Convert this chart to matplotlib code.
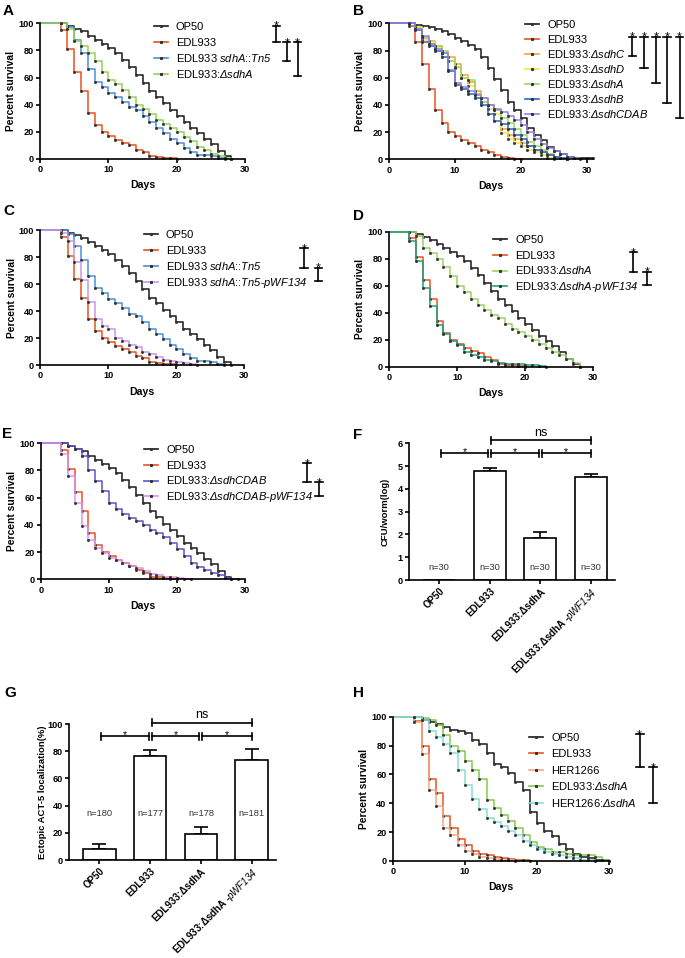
import numpy as np
import matplotlib
matplotlib.use("Agg")
import matplotlib.pyplot as plt
from matplotlib.lines import Line2D

plt.rcParams['font.family'] = ['Liberation Sans', 'DejaVu Sans']
plt.rcParams['mathtext.fontset'] = 'custom'
plt.rcParams['mathtext.rm'] = 'Liberation Sans:italic'
plt.rcParams['mathtext.it'] = 'Liberation Sans:italic'
plt.rcParams['mathtext.bf'] = 'Liberation Sans:bold'

# ---- survival data: value at day 0, then one value per day from day 3 on ----
op50 = [100, 100, 98, 96, 94, 91, 88, 85, 82, 78, 73, 68, 62, 56, 50, 46, 41, 36, 32, 27, 23, 19, 15, 11, 6, 2, 0]
edl933 = [100, 95, 81, 64, 50, 34, 25, 20, 17, 14, 12, 10, 7, 5, 2, 1.5, 1, 0.5, 0]
tn5 = [100, 100, 97, 88, 78, 66, 57, 53, 49, 46, 42, 38, 36, 32, 27, 23, 19, 15, 12, 8, 5, 3, 3, 2, 1, 0]
a_sdhA = [100, 100, 96, 87, 83, 78, 72, 64, 58, 55, 51, 46, 40, 37, 33, 29, 26, 23, 20, 16, 13, 9, 7, 4, 2, 1, 0]

b_op50 = [100, 100, 99, 98, 97, 96, 94, 92, 89, 87, 84, 81, 75, 67, 59, 51, 42, 36, 30, 23, 18, 14, 9, 6, 4, 2, 1, 1, 1, 1]
b_edl933 = [100, 98, 86, 70, 52, 36, 27, 20, 17, 14, 12, 10, 7, 5, 3, 2, 1, 0.5, 0]
b_sdhC = [100, 100, 97, 89, 87, 83, 78, 75, 70, 62, 57, 50, 45, 40, 36, 22, 18, 15, 12, 10, 7, 5, 3, 2, 1, 0]
b_sdhD = [100, 100, 97, 88, 86, 82, 78, 72, 67, 60, 54, 48, 42, 37, 33, 19, 15, 12, 10, 7, 5, 3, 1, 0]
b_sdhA = [100, 100, 96, 90, 85, 83, 80, 72, 68, 60, 58, 48, 42, 40, 36, 30, 27, 22, 18, 13, 10, 7, 4, 2, 1, 0]
b_sdhB = [100, 100, 95, 86, 83, 80, 75, 65, 55, 52, 48, 45, 40, 33, 28, 26, 22, 18, 15, 10, 7, 5, 3, 2, 1, 0]
b_sdhCDAB = [100, 100, 96, 91, 85, 81, 78, 66, 56, 53, 50, 47, 45, 40, 37, 35, 32, 29, 25, 20, 15, 11, 8, 6, 4, 2, 1, 0]

c_pwf = [100, 98, 92, 76, 63, 47, 34, 29, 27, 20, 18, 15, 13, 10, 8, 6, 4, 3, 2, 1.5, 1, 0]

d_sdhA = [100, 100, 97, 88, 84, 80, 74, 67, 60, 55, 50, 46, 42, 38, 36, 32, 28, 26, 23, 20, 17, 14, 11, 9, 6, 3, 0]
d_pwf = [100, 93, 78, 58, 45, 31, 24, 19, 16, 11, 9, 7, 5, 4, 3, 2, 2, 2, 1.5, 1, 0.5, 0]

e_cdab = [100, 100, 98, 96, 91, 80, 72, 65, 56, 52, 48, 45, 43, 40, 36, 34, 31, 27, 22, 17, 12, 9, 7, 5, 3, 1, 0.5, 0]
e_pwf = [100, 92, 76, 56, 39, 29, 23, 19, 16, 14, 12, 10, 8, 6, 4, 3, 2, 2, 1, 0.5, 0]

h_op50 = [100, 100, 98, 96, 95, 93, 91, 90, 89, 84, 81, 75, 67, 65, 61, 55, 49, 34, 26, 21, 17, 12, 8, 5, 3, 2, 1, 0.5, 0]
h_edl933 = [100, 97, 80, 57, 47, 31, 23, 15, 11, 7, 5, 4, 3, 2, 1.5, 1, 0.5, 0]
h_her1266 = [100, 96, 74, 49, 38, 23, 18, 11, 7, 5, 3, 2, 1.5, 1, 0.5, 0]
h_edl_sdhA = [100, 100, 99, 98, 94, 87, 80, 76, 69, 63, 57, 42, 37, 32, 28, 23, 18, 13, 10, 8, 6, 6, 5, 4, 4, 4, 3, 1, 0]
h_her_sdhA = [100, 100, 98, 90, 86, 81, 75, 63, 53, 43, 36, 30, 27, 24, 21, 18, 14, 11, 8, 6, 5, 4, 3, 2, 1, 0.5, 0]

# ---- bar data ----
bar_labels = ['OP50', 'EDL933', 'EDL933:ΔsdhA', 'EDL933:ΔsdhA -$\\it{pWF134}$']
cfu_mean = [0, 4.78, 1.86, 4.53]
cfu_err = [0, 0.12, 0.23, 0.11]
cfu_n = ['n=30', 'n=30', 'n=30', 'n=30']
act5_mean = [7.9, 76.7, 19.1, 73.5]
act5_err = [3.9, 4.2, 4.9, 8.1]
act5_n = ['n=180', 'n=177', 'n=178', 'n=181']

BLACK = '#1a1a1a'
RED = '#e8521f'

W, H = 685, 958
fig = plt.figure(figsize=(W / 100, H / 100), dpi=100)


def px_axes(l, t, r, b):
    return fig.add_axes([l / W, 1 - b / H, (r - l) / W, (b - t) / H])


def days_for(s):
    return np.r_[0, np.arange(3, 3 + len(s) - 1)]


def base_style(ax):
    for s in ['top', 'right']:
        ax.spines[s].set_visible(False)
    for s in ['left', 'bottom']:
        ax.spines[s].set_linewidth(1.2)
    ax.tick_params(length=3, width=1.2, pad=1.5)


def legend_px(x0, y0, dy, labels, colors):
    for i, (lab, c) in enumerate(zip(labels, colors)):
        y = 1 - (y0 + i * dy) / H
        fig.add_artist(Line2D([x0 / W, (x0 + 14) / W], [y, y], color=c, lw=1.2))
        fig.add_artist(Line2D([(x0 + 7) / W], [y], marker='s', ms=1.2, color='0.2', ls='none'))
        fig.text((x0 + 22) / W, y - 4.0 / H, lab, va='baseline', ha='left', fontsize=8)


def sig_v(ax, x, ytop, ybot, hw=0.55):
    kw = dict(color='k', lw=1.2, clip_on=False)
    ax.plot([x, x], [ytop, ybot], **kw)
    ax.plot([x - hw, x + hw], [ytop, ytop], **kw)
    ax.plot([x - hw, x + hw], [ybot, ybot], **kw)
    ax.annotate('*', (x, ytop), xytext=(0, -3.0), textcoords='offset points',
                ha='center', va='baseline', fontsize=9, annotation_clip=False)


def survival(rect, xmax, series, colors, labels, leg, sigs, letter):
    ax = px_axes(*rect)
    base_style(ax)
    for s, c in zip(series, colors):
        d = days_for(s)
        ax.step(d, s, where='post', color=c, lw=1.1, clip_on=False)
        ax.plot(d[1:], s[1:], ls='none', marker='s', ms=1.0, color='0.2', clip_on=False)
    ax.set_xlim(0, xmax)
    ax.set_ylim(0, 100)
    ax.set_xticks([0, 10, 20, 30], ['0', '10', '20', '30'], fontweight='bold', fontsize=6.6)
    ax.set_yticks([0, 20, 40, 60, 80, 100], ['0', '20', '40', '60', '80', '100'],
                  fontweight='bold', fontsize=6.6)
    ax.set_xlabel('Days', fontweight='bold', fontsize=7.6, labelpad=4.5)
    ax.set_ylabel('Percent survival', fontweight='bold', fontsize=7.4, labelpad=1.5)
    legend_px(*leg, labels, colors)
    for sg in sigs:
        sig_v(ax, *sg)
    fig.text(letter[0] / W, 1 - letter[1] / H, letter[2], fontsize=11,
             fontweight='bold', va='baseline')
    return ax


def bar_panel(rect, means, errs, ns, ylim, yticks, ylabel, ylp, n_y, br_y, ns_y, tick_h, letter):
    ax = px_axes(*rect)
    base_style(ax)
    x = np.arange(len(means))
    ax.bar(x, means, width=0.64, color='white', edgecolor='k', lw=1.2, zorder=2)
    m = np.array(means) > 0
    ax.errorbar(x[m], np.array(means)[m], yerr=[np.zeros(m.sum()), np.array(errs)[m]],
                fmt='none', ecolor='k', elinewidth=1.2, capsize=5, capthick=1.2, zorder=1)
    for xi, t in zip(x, ns):
        ax.text(xi, n_y, t, ha='center', va='center', fontsize=6.7, color='#333333', zorder=3,
                bbox=dict(boxstyle='square,pad=0.1', fc='white', ec='none'))
    ax.set_xlim(-0.6, 3.48)
    ax.set_ylim(*ylim)
    ax.set_yticks(yticks, [str(v) for v in yticks], fontweight='bold', fontsize=6.6)
    ax.set_xticks(x, bar_labels, rotation=45, ha='right', rotation_mode='anchor',
                  fontweight='bold', fontsize=7.0)
    ax.set_ylabel(ylabel, fontweight='bold', fontsize=6.8, labelpad=ylp)
    kw = dict(color='k', lw=1.2, clip_on=False)
    for a, b, lab, yy in [(0.03, 0.97, '*', br_y), (1.03, 1.97, '*', br_y),
                          (2.03, 3.0, '*', br_y), (1.03, 3.0, 'ns', ns_y)]:
        ax.plot([a, b], [yy, yy], **kw)
        ax.plot([a, a], [yy - tick_h, yy + tick_h], **kw)
        ax.plot([b, b], [yy - tick_h, yy + tick_h], **kw)
        if lab == '*':
            ax.annotate('*', ((a + b) / 2, yy), xytext=(0, -1.0), textcoords='offset points',
                        ha='center', va='baseline', fontsize=7.5, annotation_clip=False)
        else:
            ax.annotate('ns', ((a + b) / 2, yy), xytext=(0, 3), textcoords='offset points',
                        ha='center', va='baseline', fontsize=9, annotation_clip=False)
    fig.text(letter[0] / W, 1 - letter[1] / H, letter[2], fontsize=11,
             fontweight='bold', va='baseline')
    return ax


sdh = lambda g: 'EDL933:$\\it{Δsdh' + g + '}$'

# A
survival((40, 23.3, 245, 159), 30,
         [op50, edl933, tn5, a_sdhA],
         [BLACK, RED, '#4a8fdb', '#92d35a'],
         ['OP50', 'EDL933', 'EDL933 $\\it{sdhA}$::$\\it{Tn5}$', sdh('A')],
         (154, 26, 16),
         [(34.6, 98.2, 86.2), (36.1, 86.2, 72.2), (37.7, 86.2, 61.2)],
         (3, 15, 'A'))

# B
survival((389, 23.3, 593.3, 159.3), 31,
         [b_op50, b_edl933, b_sdhC, b_sdhD, b_sdhA, b_sdhB, b_sdhCDAB],
         [BLACK, RED, '#f5a235', '#f2e24a', '#98d865', '#2f63c4', '#8d80e6'],
         ['OP50', 'EDL933', sdh('C'), sdh('D'), sdh('A'), sdh('B'), sdh('CDAB')],
         (525, 24, 15),
         [(36.9, 90.1, 76), (38.7, 90.1, 66.9), (40.5, 90.1, 55.9),
          (42.2, 90.1, 41.6), (44.1, 90.1, 30.1)],
         (353, 15, 'B'))

# C
survival((40.3, 230, 244.3, 365), 30,
         [op50, edl933, tn5, c_pwf],
         [BLACK, RED, '#4a8fdb', '#c996ea'],
         ['OP50', 'EDL933', 'EDL933 $\\it{sdhA}$::$\\it{Tn5}$',
          'EDL933 $\\it{sdhA}$::$\\it{Tn5}$-$\\it{pWF134}$'],
         (144, 234, 15.9),
         [(38.8, 86.4, 72.1), (40.9, 72.1, 62.2)],
         (3, 215, 'C'))

# D
survival((389, 231.7, 593.3, 366.7), 30,
         [op50, edl933, d_sdhA, d_pwf],
         [BLACK, RED, '#9ad364', '#1fa276'],
         ['OP50', 'EDL933', sdh('A'), 'EDL933:$\\it{ΔsdhA}$-$\\it{pWF134}$'],
         (493.3, 239.3, 15.6),
         [(35.9, 84.7, 70.4), (37.9, 70.4, 60.5)],
         (353, 220, 'D'))

# E
survival((40.7, 443.3, 245, 579.3), 30,
         [op50, edl933, e_cdab, e_pwf],
         [BLACK, RED, '#5a55cc', '#dc92ea'],
         ['OP50', 'EDL933', sdh('CDAB'), 'EDL933:$\\it{ΔsdhCDAB}$-$\\it{pWF134}$'],
         (144.3, 449.3, 15.6),
         [(39.1, 85.3, 71.5), (40.9, 71.5, 61.2)],
         (2, 438, 'E'))

# H
survival((392.7, 716.7, 609.3, 861), 30,
         [h_op50, h_edl933, h_her1266, h_edl_sdhA, h_her_sdhA],
         [BLACK, RED, '#f5a585', '#84c84a', '#86dcd4'],
         ['OP50', 'EDL933', 'HER1266', sdh('A'), 'HER1266:$\\it{ΔsdhA}$'],
         (529.3, 736.7, 16.5),
         [(34.2, 88, 64.9), (36.1, 64.9, 40.0)],
         (353, 697, 'H'))

# F
bar_panel((409, 443.3, 615, 580), cfu_mean, cfu_err, cfu_n, (0, 6), [0, 1, 2, 3, 4, 5, 6],
          'CFU/worm(log)', 6, 0.56, 5.56, 6.13, 0.14, (353, 439, 'F'))

# G
bar_panel((69, 724, 276, 860), act5_mean, act5_err, act5_n, (0, 100), [0, 20, 40, 60, 80, 100],
          'Ectopic ACT-5 localization(%)', 0.5, 34, 91, 101, 2.4, (4, 697, 'G'))

fig.savefig('out.png', dpi=100)
